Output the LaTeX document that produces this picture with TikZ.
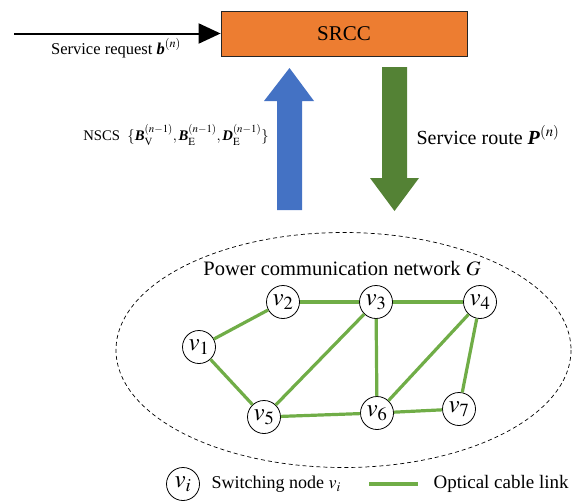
\documentclass[tikz,border=0pt]{standalone}
\usepackage{mathptmx}
\usepackage{fontspec}
\setmainfont{Liberation Serif}
\usetikzlibrary{arrows.meta}
\definecolor{srccorange}{HTML}{ED7D31}
\definecolor{upblue}{HTML}{4472C4}
\definecolor{downgreen}{HTML}{548235}
\definecolor{linkgreen}{HTML}{70AD47}
\newcommand{\bfit}[1]{\textbf{\textit{#1}}}
\begin{document}
\begin{tikzpicture}[x=1pt,y=-1pt,
  fs/.style={font=\fontsize{#1}{#1}\selectfont},
  vnode/.style={circle, draw=black, line width=0.8pt, fill=white, minimum size=33pt, inner sep=0pt, font=\fontsize{25}{25}\selectfont},
  link/.style={draw=linkgreen, line width=3.2pt}]
\useasboundingbox (0,0) rectangle (572,501);
% SRCC box
\node[draw=black!85, line width=0.8pt, fill=srccorange, minimum width=246pt, minimum height=45pt, inner sep=0pt, fs=21] (srcc) at (344,33.5) {SRCC};
\coordinate (reqstart) at (14,33.5);
\draw[line width=2pt, -{Triangle[length=22pt,width=20pt]}] (reqstart) -- (srcc.west);
\node[fs=16.5] (req) at (116,48) {Service request $\bfit{b}^{(n)}$};
% big arrows
\fill[upblue] (277,210) -- (277,101) -- (264,101) -- (289.5,68) -- (314,101) -- (302,101) -- (302,210) -- cycle;
\fill[downgreen] (382,67) -- (382,178) -- (370,178) -- (394.5,211) -- (419,178) -- (407,178) -- (407,67) -- cycle;
\node[fs=14.7] (nscs) at (176,135) {NSCS~~$\{\bfit{B}_{\mathrm{V}}^{(n-1)},\bfit{B}_{\mathrm{E}}^{(n-1)},\bfit{D}_{\mathrm{E}}^{(n-1)}\}$};
\node[fs=20] (route) at (488,135) {Service route $\bfit{P}^{(n)}$};
% network
\draw[dashed, dash pattern=on 4pt off 3pt, line width=0.7pt] (343.5,350) ellipse [x radius=227.5, y radius=117.5];
\node[fs=20.5] (title) at (342,269) {Power communication network $G$};
\node[vnode] (v1) at (199,347) {$v_1$};
\node[vnode] (v2) at (283,302) {$v_2$};
\node[vnode] (v3) at (376,302) {$v_3$};
\node[vnode] (v4) at (480,302) {$v_4$};
\node[vnode] (v5) at (264,417) {$v_5$};
\node[vnode] (v6) at (377,413) {$v_6$};
\node[vnode] (v7) at (459,409) {$v_7$};
\path[link] (v1) -- (v2);
\path[link] (v2) -- (v3);
\path[link] (v3) -- (v4);
\path[link] (v1) -- (v5);
\path[link] (v3) -- (v5);
\path[link] (v3) -- (v6);
\path[link] (v4) -- (v6);
\path[link] (v4) -- (v7);
\path[link] (v5) -- (v6);
\path[link] (v6) -- (v7);
% legend
\node[vnode] (legnode) at (183,484) {$v_i$};
\node[fs=18, anchor=west] (legnodetext) at (208,484) {Switching node $v_i$};
\coordinate (legA) at (369,484);
\coordinate (legB) at (418,484);
\path[link] (legA) -- (legB);
\node[fs=19, anchor=west] (leglinktext) at (430,484) {Optical cable link};
\end{tikzpicture}
\end{document}
